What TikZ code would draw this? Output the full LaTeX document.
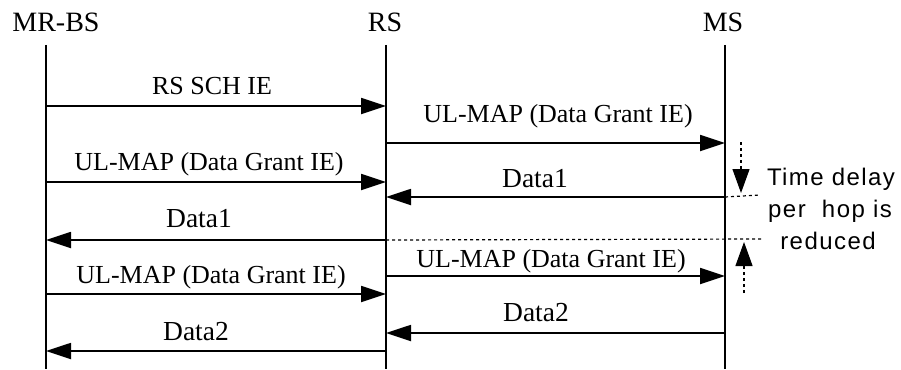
\documentclass[tikz,border=0pt]{standalone}
\usepackage{fontspec}
\setmainfont{Liberation Serif}
\newfontfamily\notefont{Liberation Sans}[LetterSpace=6]
\usetikzlibrary{arrows.meta}
\tikzset{
  head/.style={anchor=base,inner sep=0pt,font=\fontsize{28}{30}\selectfont},
  lbl/.style={anchor=base,inner sep=0pt,font=\fontsize{26}{30}\selectfont},
  dlbl/.style={anchor=base,inner sep=0pt,font=\fontsize{27.5}{30}\selectfont},
  life/.style={line width=1.8pt},
  msg/.style={line width=1.8pt,-{Triangle[length=25pt,width=16pt]}},
  dotline/.style={line width=1.2pt,dash pattern=on 3pt off 3pt},
  dotarrow/.style={line width=1.2pt,dash pattern=on 3pt off 3pt,-{Triangle[length=24pt,width=17pt]}},
  note/.style={anchor=base,inner sep=0pt,font=\notefont\fontsize{24}{26}\selectfont}
}
\begin{document}
\begin{tikzpicture}[x=1pt,y=-1pt]
\useasboundingbox (0,0) rectangle (901,369);
% heads
\node[head] (bs) at (56,32) {MR-BS};
\node[head] (rs) at (385,32) {RS};
\node[head] (ms) at (723,32) {MS};
% lifelines
\coordinate (bsT) at (46,45);  \coordinate (bsB) at (46,369);
\coordinate (rsT) at (386,45); \coordinate (rsB) at (386,369);
\coordinate (msT) at (725,45); \coordinate (msB) at (725,369);
\draw[life] (bsT) -- (bsB);
\draw[life] (rsT) -- (rsB);
\draw[life] (msT) -- (msB);
% message end points
\coordinate (a1) at (46,106);  \coordinate (b1) at (386,106);
\coordinate (a2) at (386,143); \coordinate (b2) at (725,143);
\coordinate (a3) at (46,182);  \coordinate (b3) at (386,182);
\coordinate (a4) at (725,197); \coordinate (b4) at (386,197);
\coordinate (a5) at (386,240); \coordinate (b5) at (46,240);
\coordinate (a6) at (386,276); \coordinate (b6) at (725,276);
\coordinate (a7) at (46,294);  \coordinate (b7) at (386,294);
\coordinate (a8) at (725,333); \coordinate (b8) at (386,333);
\coordinate (a9) at (386,351); \coordinate (b9) at (46,351);
\draw[msg] (a1) -- (b1);
\draw[msg] (a2) -- (b2);
\draw[msg] (a3) -- (b3);
\draw[msg] (a4) -- (b4);
\draw[msg] (a5) -- (b5);
\draw[msg] (a6) -- (b6);
\draw[msg] (a7) -- (b7);
\draw[msg] (a8) -- (b8);
\draw[msg] (a9) -- (b9);
% labels
\node[lbl] (l1) at (212,94) {RS SCH IE};
\node[lbl] (l2) at (558,122) {UL-MAP (Data Grant IE)};
\node[lbl] (l3) at (209,170) {UL-MAP (Data Grant IE)};
\node[dlbl] (l4) at (535,187) {Data1};
\node[dlbl] (l5) at (199,227) {Data1};
\node[lbl] (l6) at (551,267) {UL-MAP (Data Grant IE)};
\node[lbl] (l7) at (211,283) {UL-MAP (Data Grant IE)};
\node[dlbl] (l8) at (536,321) {Data2};
\node[dlbl] (l9) at (196,340) {Data2};
% time-delay markers
\coordinate (d1) at (760,195);
\coordinate (d2) at (763,239);
\draw[dotline] (a4) -- (d1);
\draw[dotline] (a5) -- (d2);
\coordinate (dt) at (741,142); \coordinate (dh) at (741,193);
\coordinate (ut) at (744,293); \coordinate (uh) at (744,242);
\draw[dotarrow] (dt) -- (dh);
\draw[dotarrow] (ut) -- (uh);
\node[note] (n1) at (831,185) {Time delay};
\node[note] (n2) at (830,217) {per~ hop is};
\node[note] (n3) at (828,249) {reduced};
\end{tikzpicture}
\end{document}
